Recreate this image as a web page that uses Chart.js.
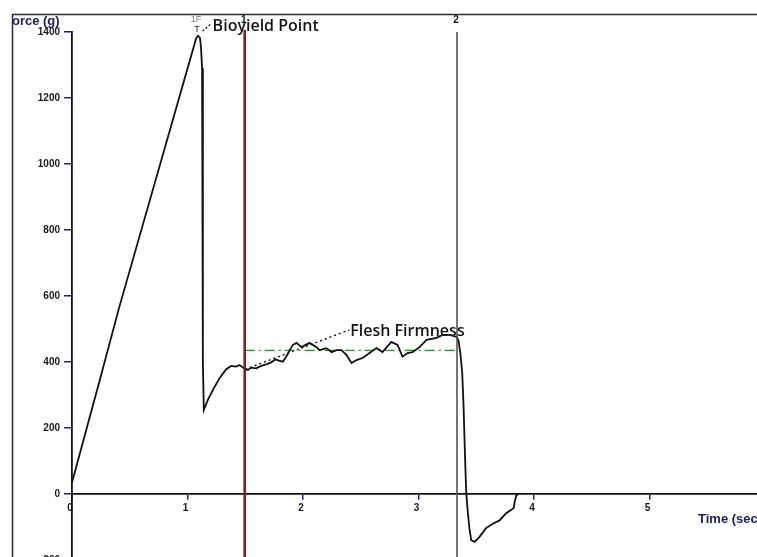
<!DOCTYPE html>
<html><head><meta charset="utf-8">
<script src="https://cdn.jsdelivr.net/npm/chart.js@4.4.1/dist/chart.umd.min.js"></script>
<style>
html,body{margin:0;padding:0;background:#fff;overflow:hidden;}
#wrap{position:relative;width:757px;height:557px;overflow:hidden;background:#fff;}
canvas{display:block;}
</style></head>
<body><div id="wrap"><canvas id="c" width="757" height="580"></canvas></div>
<script>
// ---- data ----
const time  = [0, 0.24, 0.41, 1.075, 1.091, 1.108, 1.117, 1.126, 1.133, 1.141, 1.176, 1.219, 1.277, 1.335, 1.378, 1.421, 1.450, 1.488, 1.522, 1.552, 1.595, 1.638, 1.681, 1.725, 1.762, 1.790, 1.825, 1.854, 1.883, 1.912, 1.944, 1.987, 2.056, 2.117, 2.143, 2.203, 2.247, 2.290, 2.333, 2.377, 2.420, 2.463, 2.515, 2.576, 2.636, 2.688, 2.764, 2.818, 2.861, 2.905, 2.948, 3.009, 3.069, 3.156, 3.208, 3.268, 3.329, 3.346, 3.362, 3.378, 3.390, 3.398, 3.407, 3.413, 3.427, 3.442, 3.456, 3.485, 3.528, 3.586, 3.643, 3.701, 3.759, 3.803, 3.825, 3.831, 3.846, 3.868];
const force = [35, 345, 567, 1381, 1388, 1382, 1352, 1290, 400, 255, 285, 315, 351, 378, 388, 386, 391, 381, 376, 383, 381, 388, 393, 399, 408, 404, 401, 416, 434, 452, 458, 445, 458, 445, 436, 442, 430, 436, 436, 421, 397, 406, 412, 427, 442, 430, 461, 452, 416, 427, 430, 445, 467, 473, 482, 482, 476, 465, 427, 367, 264, 164, 64, 3, -58, -109, -140, -145, -130, -103, -90, -80, -58, -48, -42, -26, -4, 0];
const markerTimes  = [1.495, 3.333];
const markerLabels = ['1', '2'];
const markerTops   = [1406, 1400];
const firmnessLevel = 435;
const firmnessStart = 1.495;
const firmnessEnd   = 3.32;
const firmnessLeaderX = [1.50, 2.40];
const firmnessLeaderY = [378, 497];
const bioLeaderX = [1.13, 1.20];
const bioLeaderY = [1403, 1424];
const annotationLabels = ['Bioyield Point', 'Flesh Firmness'];
const yAxisTitle = 'Force (g)';
const xAxisTitle = 'Time (sec)';
const xMin = 0, xMax = 5.93, yMin = -260.6, yMax = 1400;
const xStep = 1, yStep = 200;

const pts = (xs, ys) => xs.map((v, i) => ({x: v, y: ys[i]}));

const annot = {
  id: 'annot',
  afterDraw(chart) {
    const {ctx, scales: {x, y}} = chart;
    ctx.save();
    // window frame
    ctx.strokeStyle = '#2b2b2b'; ctx.lineWidth = 1.5;
    ctx.beginPath(); ctx.moveTo(12.5, 580); ctx.lineTo(12.5, 14.5); ctx.lineTo(757, 14.5); ctx.stroke();
    // y axis title (clipped by frame)
    ctx.save();
    ctx.beginPath(); ctx.rect(13, 15, 744, 565); ctx.clip();
    ctx.fillStyle = '#1c2270'; ctx.font = 'bold 13px "Liberation Sans"';
    ctx.textBaseline = 'middle'; ctx.textAlign = 'left';
    ctx.fillText(yAxisTitle, 4, 21);
    ctx.restore();
    // x axis title
    ctx.fillStyle = '#1c2270'; ctx.font = 'bold 13px "Liberation Sans"';
    ctx.textBaseline = 'middle'; ctx.textAlign = 'left';
    ctx.fillText(xAxisTitle, 698, y.getPixelForValue(0) + 25);
    // marker numbers
    ctx.fillStyle = '#111'; ctx.font = 'bold 10px "Liberation Sans"'; ctx.textAlign = 'center';
    markerTimes.forEach((t, i) => ctx.fillText(markerLabels[i], x.getPixelForValue(t) - 1, 20));
    // 1F / T marks near the peak
    ctx.font = '9px "Liberation Sans"'; ctx.fillStyle = '#7a7a7a';
    ctx.fillText('1F', x.getPixelForValue(time[4]) - 2, 20);
    ctx.fillStyle = '#222';
    ctx.fillText('T', x.getPixelForValue(time[4]) - 1, 30);
    // annotation labels
    ctx.fillStyle = '#151515'; ctx.font = '600 16px "Open Sans"';
    ctx.textAlign = 'left'; ctx.textBaseline = 'alphabetic';
    ctx.fillText(annotationLabels[0], x.getPixelForValue(bioLeaderX[1]) + 2, 31);
    ctx.fillText(annotationLabels[1], x.getPixelForValue(firmnessLeaderX[1]) + 1, 336);
    ctx.restore();
  }
};

const noPad = (s) => { s.paddingTop = 0; s.paddingBottom = 0; s.paddingLeft = 0; s.paddingRight = 0; };

new Chart(document.getElementById('c'), {
  type: 'scatter',
  data: {
    datasets: [
      { data: pts(time, force), showLine: true, borderColor: '#111', borderWidth: 1.8, pointRadius: 0, tension: 0, order: 2 },
      { data: pts([markerTimes[0], markerTimes[0]], [yMin, markerTops[0]]), showLine: true, borderColor: '#8b1c1c', borderWidth: 2.6, pointRadius: 0, clip: false, order: 1 },
      { data: pts([markerTimes[1], markerTimes[1]], [yMin, markerTops[1]]), showLine: true, borderColor: '#5a5050', borderWidth: 1.6, pointRadius: 0, clip: false, order: 1 },
      { data: pts([firmnessStart, firmnessEnd], [firmnessLevel, firmnessLevel]), showLine: true, borderColor: '#2f8f2f', borderWidth: 1.3, borderDash: [10, 4, 2, 4], pointRadius: 0, order: 3 },
      { data: pts(firmnessLeaderX, firmnessLeaderY), showLine: true, borderColor: '#111', borderWidth: 1.4, borderDash: [2, 3], pointRadius: 0, clip: false, order: 3 },
      { data: pts(bioLeaderX, bioLeaderY), showLine: true, borderColor: '#111', borderWidth: 1.4, borderDash: [2, 2], pointRadius: 0, clip: false, order: 3 }
    ]
  },
  options: {
    responsive: false, animation: false, devicePixelRatio: 1,
    layout: { padding: { left: 0, top: 32, right: 0, bottom: 0 } },
    plugins: { legend: { display: false }, tooltip: { enabled: false }, title: { display: false } },
    scales: {
      x: {
        type: 'linear', min: xMin, max: xMax, position: { y: 0 },
        afterFit(s) { s.height = 0; noPad(s); },
        grid: { drawOnChartArea: false, tickLength: 5, color: '#1a237e', lineWidth: 1.5 },
        border: { display: true, color: '#111', width: 1.8 },
        ticks: { stepSize: xStep, includeBounds: false, padding: 3, labelOffset: -2, color: '#1a1a1a', font: { family: 'Liberation Sans', size: 10, weight: 'bold' }, maxRotation: 0, callback: (v) => String(v) }
      },
      y: {
        type: 'linear', min: yMin, max: yMax, position: 'left',
        afterFit(s) { s.width = 72; noPad(s); },
        grid: { drawOnChartArea: false, tickLength: 8, color: '#1a237e', lineWidth: 1.5 },
        border: { display: true, color: '#111', width: 1.8 },
        ticks: { stepSize: yStep, includeBounds: false, padding: 4, color: '#1a1a1a', font: { family: 'Liberation Sans', size: 10, weight: 'bold' }, callback: (v) => String(v) }
      }
    }
  },
  plugins: [annot]
});
</script>
</body></html>
